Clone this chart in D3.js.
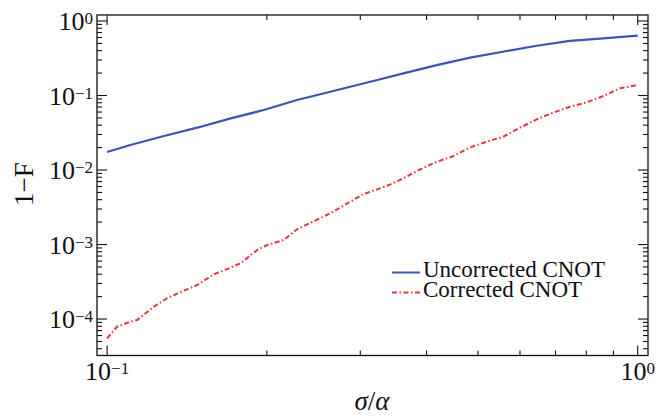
<html>
<head>
<script src="https://cdn.jsdelivr.net/npm/d3@7/dist/d3.min.js"></script>
<style>
  body { margin: 0; background: #fff; }
  text { font-family: "Liberation Serif", "DejaVu Serif", serif; fill: #111; }
</style>
</head>
<body>
<script>
// sigma/alpha values and 1-F
var xUncorr = [0.1, 0.1106, 0.128, 0.1478, 0.171, 0.1973, 0.228, 0.2634, 0.323, 0.3617, 0.418, 0.4831, 0.557, 0.6451, 0.745, 0.8613, 1.0];
var yUncorr = [0.01746, 0.0217, 0.0286, 0.037, 0.0494, 0.0638, 0.0871, 0.1125, 0.1614, 0.1986, 0.256, 0.322, 0.387, 0.466, 0.54, 0.585, 0.635];

var xCorr = [0.1, 0.1044, 0.1106, 0.1139, 0.1224, 0.1297, 0.1395, 0.1478, 0.1589, 0.1707, 0.1783, 0.1917, 0.2002, 0.2153, 0.228, 0.2416, 0.2561, 0.2713, 0.2873, 0.3045, 0.3227, 0.3365, 0.3617, 0.3889, 0.4181, 0.4493, 0.4831, 0.5194, 0.558, 0.6, 0.6451, 0.6934, 0.7455, 0.8014, 0.8613, 0.9262, 0.9957];
var yCorr = [5.51e-5, 7.89e-5, 9.2e-5, 9.7e-5, 1.46e-4, 1.9e-4, 2.4e-4, 2.86e-4, 3.98e-4, 4.89e-4, 5.58e-4, 8.43e-4, 9.84e-4, 1.15e-3, 1.6e-3, 1.96e-3, 2.37e-3, 2.96e-3, 3.76e-3, 4.76e-3, 5.5e-3, 6.1e-3, 7.73e-3, 1.02e-2, 1.29e-2, 1.54e-2, 2.01e-2, 2.4e-2, 2.8e-2, 3.7e-2, 4.79e-2, 5.89e-2, 7.08e-2, 8.09e-2, 9.84e-2, 0.125, 0.138];

var xMajor = [0.1, 1];
var xMajorExp = ["\u22121", "0"];
var yMajor = [1, 0.1, 0.01, 0.001, 0.0001];
var yMajorExp = ["0", "\u22121", "\u22122", "\u22123", "\u22124"];

var seriesNames = ["Uncorrected CNOT", "Corrected CNOT"];

var W = 667, H = 418;
var pl = 97, pr = 648, pt = 15, pb = 355.5;

var svg = d3.select("body").append("svg")
    .attr("width", W)
    .attr("height", H);

var x = d3.scaleLog().domain([0.0957, 1.0457]).range([pl, pr]);
var y = d3.scaleLog().domain([3.24e-5, 1.204]).range([pb, pt]);

// minor tick positions
function minors(lo, hi, dom) {
  var out = [];
  for (var e = lo; e <= hi; e++) {
    for (var m = 2; m <= 9; m++) {
      var v = m * Math.pow(10, e);
      if (v > dom[0] && v < dom[1]) out.push(v);
    }
  }
  return out;
}
var xMinor = minors(-2, 0, x.domain());
var yMinor = minors(-6, 0, y.domain());

var ticks = svg.append("g").attr("stroke", "#111").attr("stroke-width", 1.1);

// bottom + top ticks
xMajor.forEach(function(v) {
  ticks.append("line").attr("x1", x(v)).attr("x2", x(v)).attr("y1", pb).attr("y2", pb - 10);
  ticks.append("line").attr("x1", x(v)).attr("x2", x(v)).attr("y1", pt).attr("y2", pt + 10);
});
xMinor.forEach(function(v) {
  ticks.append("line").attr("x1", x(v)).attr("x2", x(v)).attr("y1", pb).attr("y2", pb - 5);
  ticks.append("line").attr("x1", x(v)).attr("x2", x(v)).attr("y1", pt).attr("y2", pt + 5);
});
// left + right ticks
yMajor.forEach(function(v) {
  ticks.append("line").attr("y1", y(v)).attr("y2", y(v)).attr("x1", pl).attr("x2", pl + 10);
  ticks.append("line").attr("y1", y(v)).attr("y2", y(v)).attr("x1", pr).attr("x2", pr - 10);
});
yMinor.forEach(function(v) {
  ticks.append("line").attr("y1", y(v)).attr("y2", y(v)).attr("x1", pl).attr("x2", pl + 5);
  ticks.append("line").attr("y1", y(v)).attr("y2", y(v)).attr("x1", pr).attr("x2", pr - 5);
});

svg.append("rect")
    .attr("x", pl).attr("y", pt)
    .attr("width", pr - pl).attr("height", pb - pt)
    .attr("fill", "none").attr("stroke", "#111").attr("stroke-width", 1.3);

// tick labels
xMajor.forEach(function(v, i) {
  var t = svg.append("text")
      .attr("x", x(v)).attr("y", 380)
      .attr("text-anchor", "middle")
      .attr("font-size", 26);
  t.append("tspan").text("10");
  t.append("tspan").attr("dy", -6).attr("font-size", 17).text(xMajorExp[i]);
});
yMajor.forEach(function(v, i) {
  var t = svg.append("text")
      .attr("x", 93).attr("y", y(v) + 9)
      .attr("text-anchor", "end")
      .attr("font-size", 26);
  t.append("tspan").text("10");
  t.append("tspan").attr("dy", -6).attr("font-size", 17).text(yMajorExp[i]);
});

// axis titles
var xt = svg.append("text")
    .attr("x", 372).attr("y", 410)
    .attr("text-anchor", "middle")
    .attr("font-size", 27);
xt.append("tspan").attr("font-style", "italic").text("\u03c3");
xt.append("tspan").text("/");
xt.append("tspan").attr("font-style", "italic").text("\u03b1");

svg.append("text")
    .attr("transform", "translate(33,184) rotate(-90)")
    .attr("text-anchor", "middle")
    .attr("font-size", 27)
    .text("1\u2212F");

// curves
var line = d3.line()
    .x(function(d) { return x(d[0]); })
    .y(function(d) { return y(d[1]); });

svg.append("path")
    .datum(d3.zip(xUncorr, yUncorr))
    .attr("d", line)
    .attr("fill", "none")
    .attr("stroke", "#3a56b0")
    .attr("stroke-width", 2.2)
    .attr("stroke-linejoin", "round");

svg.append("path")
    .datum(d3.zip(xCorr, yCorr))
    .attr("d", line)
    .attr("fill", "none")
    .attr("stroke", "#e5363c")
    .attr("stroke-width", 2)
    .attr("stroke-dasharray", "5,2.5,1.5,2.5");

// legend
var legY = [272.5, 292.5];
var legColors = ["#3a56b0", "#e5363c"];
var legDash = [null, "5,2.5,1.5,2.5"];
seriesNames.forEach(function(name, i) {
  svg.append("line")
      .attr("x1", 392).attr("x2", 420)
      .attr("y1", legY[i]).attr("y2", legY[i])
      .attr("stroke", legColors[i]).attr("stroke-width", 2)
      .attr("stroke-dasharray", legDash[i]);
  svg.append("text")
      .attr("x", 423).attr("y", legY[i] + 4)
      .attr("font-size", 23)
      .text(name);
});
</script>
</body>
</html>
